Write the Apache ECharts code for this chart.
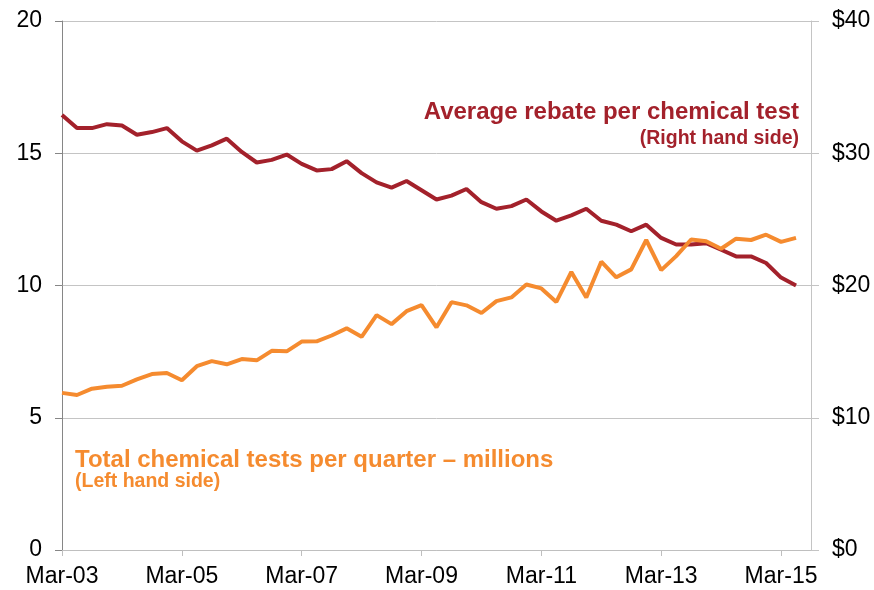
<!DOCTYPE html>
<html>
<head>
<meta charset="utf-8">
<script src="https://cdn.jsdelivr.net/npm/echarts@6/dist/echarts.min.js"></script>
<style>
  html, body { margin: 0; padding: 0; background: #fff; }
  #container { width: 874px; height: 590px; }
</style>
</head>
<body>
<div id="container"></div>
<script>
// quarters, Mar-03 .. Sep-15 (last one has no data)
var quarters = [
    'Mar-03','Jun-03','Sep-03','Dec-03','Mar-04','Jun-04','Sep-04','Dec-04',
    'Mar-05','Jun-05','Sep-05','Dec-05','Mar-06','Jun-06','Sep-06','Dec-06',
    'Mar-07','Jun-07','Sep-07','Dec-07','Mar-08','Jun-08','Sep-08','Dec-08',
    'Mar-09','Jun-09','Sep-09','Dec-09','Mar-10','Jun-10','Sep-10','Dec-10',
    'Mar-11','Jun-11','Sep-11','Dec-11','Mar-12','Jun-12','Sep-12','Dec-12',
    'Mar-13','Jun-13','Sep-13','Dec-13','Mar-14','Jun-14','Sep-14','Dec-14',
    'Mar-15','Jun-15','Sep-15'
];
// total chemical tests per quarter, millions (left axis)
var testsMillions = [
    5.94, 5.86, 6.10, 6.17, 6.21, 6.45, 6.65, 6.69, 6.42, 6.95,
    7.14, 7.02, 7.22, 7.17, 7.53, 7.51, 7.88, 7.89, 8.11, 8.38,
    8.06, 8.88, 8.54, 9.03, 9.26, 8.42, 9.37, 9.25, 8.96, 9.41,
    9.55, 10.04, 9.89, 9.38, 10.51, 9.55, 10.90, 10.31, 10.61, 11.72,
    10.58, 11.11, 11.74, 11.67, 11.39, 11.77, 11.72, 11.92, 11.65, 11.80
];
// average rebate per chemical test, $ (right axis)
var avgRebate = [
    32.9, 31.9, 31.9, 32.2, 32.1, 31.4, 31.6, 31.9, 30.9, 30.2,
    30.6, 31.1, 30.1, 29.3, 29.5, 29.9, 29.2, 28.7, 28.8, 29.4,
    28.5, 27.8, 27.4, 27.9, 27.2, 26.5, 26.8, 27.3, 26.3, 25.8,
    26.0, 26.5, 25.6, 24.9, 25.3, 25.8, 24.9, 24.6, 24.1, 24.6,
    23.6, 23.1, 23.1, 23.2, 22.7, 22.2, 22.2, 21.7, 20.6, 20.0
];

var RED = '#A3212B';
var ORANGE = '#F58B2F';
var FONT = "'Liberation Sans', Arial, sans-serif";

var myChart = echarts.init(document.getElementById('container'));
var option = {
    animation: false,
    backgroundColor: '#fff',
    grid: { left: 62, right: 63, top: 21, bottom: 40, containLabel: false },
    xAxis: {
        type: 'category',
        data: quarters,
        boundaryGap: false,
        axisLine: { lineStyle: { color: '#BFBFBF', width: 1 } },
        axisTick: {
            show: true,
            length: 6,
            interval: function (i) { return i % 8 === 0; },
            lineStyle: { color: '#BFBFBF' }
        },
        axisLabel: {
            interval: 7,
            margin: 15,
            fontSize: 23,
            fontFamily: FONT,
            color: '#000'
        },
        splitLine: { show: false }
    },
    yAxis: [
        {
            type: 'value',
            min: 0,
            max: 20,
            interval: 5,
            axisLine: { show: true, lineStyle: { color: '#868686' } },
            axisTick: { show: true, length: 7, lineStyle: { color: '#868686' } },
            axisLabel: { margin: 20, fontSize: 23, fontFamily: FONT, color: '#000' },
            splitLine: { lineStyle: { color: '#C4C4C4', width: 1 } }
        },
        {
            type: 'value',
            min: 0,
            max: 40,
            interval: 10,
            position: 'right',
            axisLine: { show: true, lineStyle: { color: '#C4C4C4' } },
            axisTick: { show: true, length: 8, lineStyle: { color: '#C4C4C4' } },
            axisLabel: {
                margin: 21,
                fontSize: 23,
                fontFamily: FONT,
                color: '#000',
                formatter: function (v) { return '$' + v; }
            },
            splitLine: { show: false }
        }
    ],
    series: [
        {
            name: 'Total chemical tests per quarter',
            type: 'line',
            yAxisIndex: 0,
            data: testsMillions,
            symbol: 'none',
            lineStyle: { color: ORANGE, width: 4 },
            z: 3
        },
        {
            name: 'Average rebate per chemical test',
            type: 'line',
            yAxisIndex: 1,
            data: avgRebate,
            symbol: 'none',
            lineStyle: { color: RED, width: 4 },
            z: 2
        }
    ],
    graphic: [
        {
            type: 'text', right: 75, top: 100,
            style: { text: 'Average rebate per chemical test', font: 'bold 24px ' + FONT, fill: RED }
        },
        {
            type: 'text', right: 75, top: 129,
            style: { text: '(Right hand side)', font: 'bold 19.5px ' + FONT, fill: RED }
        },
        {
            type: 'text', left: 75, top: 448,
            style: { text: 'Total chemical tests per quarter \u2013 millions', font: 'bold 24px ' + FONT, fill: ORANGE }
        },
        {
            type: 'text', left: 75, top: 472,
            style: { text: '(Left hand side)', font: 'bold 19.5px ' + FONT, fill: ORANGE }
        }
    ]
};
myChart.setOption(option);
</script>
</body>
</html>
